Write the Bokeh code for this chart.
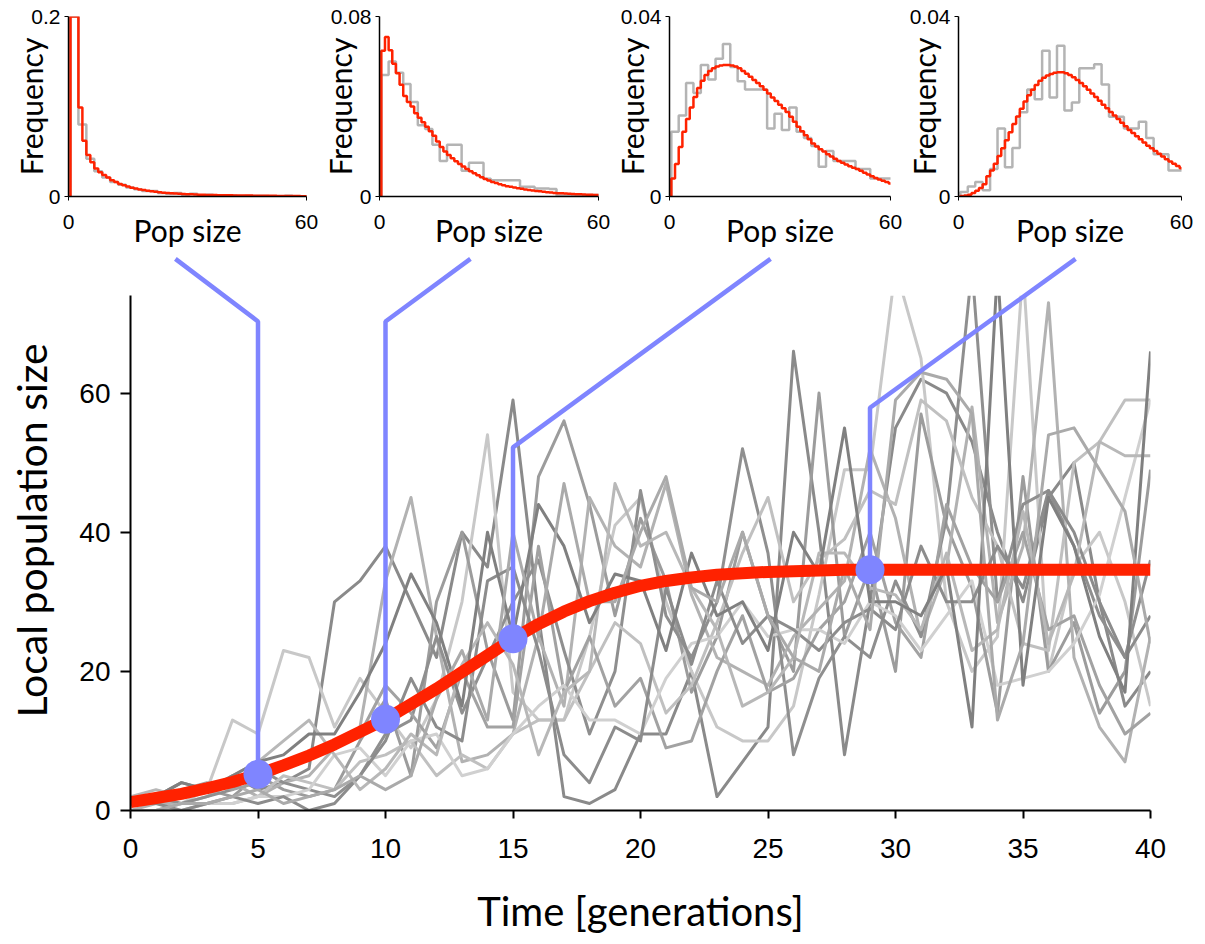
from bokeh.plotting import figure
from bokeh.layouts import column, row
from bokeh.models import Range1d, FixedTicker, PrintfTickFormatter
from bokeh.embed import file_html
from bokeh.resources import INLINE

# ---------------- data ----------------
time = list(range(41))

mean_curve = [1.2, 1.8, 2.4, 3.2, 4.1, 5.2, 6.5, 7.9, 9.5, 11.3,
              13.1, 15.3, 17.5, 19.9, 22.3, 24.7, 26.8, 28.6, 30.1, 31.3,
              32.3, 33.0, 33.5, 33.9, 34.1, 34.3, 34.4, 34.5, 34.6, 34.6,
              34.6, 34.6, 34.6, 34.6, 34.6, 34.6, 34.6, 34.6, 34.6, 34.6, 34.6]

traj_01 = [1, 2, 4, 3, 5, 3, 4, 6, 30, 33, 38, 30, 22, 40, 35, 59, 28, 2, 1, 3,
           11, 11, 20, 2, 7, 12, 66, 40, 8, 30, 55, 62, 60, 53, 40, 30, 45, 50, 30, 15, 20]
traj_02 = [0, 0, 1, 3, 13, 11, 23, 22, 12, 19, 14, 9, 16, 30, 54, 17, 13, 13, 25, 41,
           45, 30, 20, 12, 10, 10, 15, 31, 49, 49, 78, 65, 30, 20, 25, 78, 20, 35, 40, 30, 15]
traj_03 = [1, 1, 2, 3, 2, 5, 3, 2, 3, 10, 16, 5, 30, 40, 23, 13, 48, 56, 44, 28,
           42, 33, 17, 25, 40, 28, 20, 60, 25, 35, 20, 57, 41, 32, 14, 48, 20, 27, 14, 20, 49]
traj_04 = [0, 1, 1, 2, 4, 2, 4, 5, 9, 12, 33, 45, 25, 7, 8, 11, 25, 15, 45, 38,
           35, 47, 31, 22, 20, 18, 25, 29, 33, 52, 42, 25, 35, 58, 27, 38, 73, 22, 12, 7, 25]
traj_05 = [1, 2, 1, 2, 3, 6, 4, 3, 2, 5, 11, 13, 25, 14, 22, 30, 36, 23, 11, 20,
           46, 28, 22, 30, 52, 37, 8, 19, 25, 22, 33, 25, 42, 78, 30, 44, 46, 38, 28, 22, 36]
traj_06 = [0, 0, 0, 1, 1, 2, 5, 4, 3, 7, 8, 10, 5, 8, 6, 11, 13, 13, 20, 27,
           24, 14, 18, 27, 37, 45, 30, 36, 39, 46, 44, 59, 56, 45, 38, 24, 23, 50, 53, 59, 59]
traj_07 = [1, 2, 3, 4, 3, 4, 6, 8, 9, 11, 18, 14, 9, 20, 12, 12, 38, 17, 25, 15,
           19, 9, 10, 20, 28, 17, 19, 26, 30, 40, 27, 22, 44, 35, 30, 40, 26, 28, 18, 11, 14]
traj_08 = [0, 0, 1, 1, 1, 2, 2, 3, 8, 9, 5, 10, 11, 5, 6, 11, 15, 18, 13, 13,
           11, 19, 24, 25, 30, 25, 26, 26, 24, 30, 28, 23, 28, 33, 18, 19, 20, 24, 31, 45, 59]
traj_09 = [1, 1, 0, 1, 2, 1, 2, 0, 1, 5, 10, 19, 12, 10, 33, 35, 23, 8, 4, 12,
           10, 32, 21, 33, 24, 28, 26, 23, 27, 29, 26, 38, 30, 30, 38, 32, 46, 40, 30, 22, 28]
traj_10 = [2, 3, 2, 3, 5, 7, 10, 13, 8, 3, 6, 11, 8, 21, 27, 21, 8, 17, 20, 47,
           38, 40, 32, 26, 15, 17, 22, 37, 37, 32, 31, 26, 37, 23, 26, 43, 24, 34, 53, 51, 51]
traj_11 = [1, 2, 4, 3, 5, 7, 8, 11, 11, 17, 24, 34, 27, 15, 40, 25, 44, 38, 27, 34,
           33, 23, 37, 28, 30, 23, 40, 34, 55, 30, 30, 28, 35, 12, 78, 18, 45, 38, 25, 17, 66]
traj_12 = [0, 0, 1, 1, 2, 3, 1, 2, 3, 5, 3, 5, 16, 23, 13, 40, 25, 47, 30, 30,
           40, 48, 32, 30, 40, 28, 22, 20, 35, 26, 59, 63, 62, 57, 13, 24, 54, 55, 49, 43, 24]
trajectories = [traj_01, traj_02, traj_03, traj_04, traj_05, traj_06,
                traj_07, traj_08, traj_09, traj_10, traj_11, traj_12]
traj_colors = ["#8a8a8a", "#c8c8c8", "#9c9c9c", "#b2b2b2", "#8f8f8f", "#c0c0c0",
               "#a2a2a2", "#d0d0d0", "#8c8c8c", "#b8b8b8", "#808080", "#aaaaaa"]

snap_times = [5, 10, 15, 29]

# insets: fitted distribution (per integer N = 1..60) and observed histogram (bins of 2)
pop_n = list(range(1, 61))
red_t05 = [0.2, 0.2, 0.099, 0.062, 0.046, 0.038, 0.031, 0.027, 0.024, 0.021,
           0.018, 0.016, 0.014, 0.0125, 0.011, 0.0098, 0.0088, 0.0079, 0.0071, 0.0064,
           0.0058, 0.0052, 0.0047, 0.0043, 0.0039, 0.0036, 0.0033, 0.0030, 0.0028, 0.0026,
           0.0024, 0.0022, 0.0020, 0.0019, 0.0018, 0.0017, 0.0016, 0.0015, 0.0014, 0.0013,
           0.0013, 0.0012, 0.0011, 0.0011, 0.0010, 0.0010, 0.0009, 0.0009, 0.0008, 0.0008,
           0.0007, 0.0007, 0.0006, 0.0006, 0.0006, 0.0005, 0.0005, 0.0005, 0.0004, 0.0004]
red_t10 = [0.0648, 0.0709, 0.065, 0.059, 0.0548, 0.0497, 0.0447, 0.042, 0.040, 0.037,
           0.035, 0.033, 0.031, 0.029, 0.027, 0.0245, 0.022, 0.020, 0.0185, 0.017,
           0.0157, 0.0145, 0.0133, 0.0122, 0.0112, 0.0103, 0.0094, 0.0086, 0.0078, 0.0071,
           0.0065, 0.0060, 0.0055, 0.0050, 0.0046, 0.0043, 0.0040, 0.0037, 0.0034, 0.0031,
           0.0029, 0.0027, 0.0025, 0.0023, 0.0021, 0.0019, 0.0018, 0.0016, 0.0015, 0.0014,
           0.0013, 0.0012, 0.0011, 0.0010, 0.0010, 0.0009, 0.0008, 0.0008, 0.0007, 0.0007]
red_t15 = [0.0040, 0.0072, 0.0110, 0.0144, 0.0172, 0.0198, 0.0221, 0.0241, 0.0257, 0.0270,
           0.0279, 0.0285, 0.0289, 0.0291, 0.0292, 0.0292, 0.0291, 0.0289, 0.0285, 0.0279,
           0.0273, 0.0266, 0.0259, 0.0252, 0.0245, 0.0237, 0.0229, 0.0220, 0.0212, 0.0204,
           0.0196, 0.0188, 0.0177, 0.0166, 0.0155, 0.0145, 0.0136, 0.0127, 0.0118, 0.0111,
           0.0105, 0.0100, 0.0094, 0.0089, 0.0084, 0.0079, 0.0075, 0.0071, 0.0067, 0.0064,
           0.0061, 0.0057, 0.0053, 0.0049, 0.0045, 0.0041, 0.0038, 0.0035, 0.0032, 0.0029]
red_t29 = [0.0001, 0.0002, 0.0004, 0.0008, 0.0013, 0.0019, 0.0027, 0.0045, 0.0058, 0.0073,
           0.0090, 0.0107, 0.0125, 0.0143, 0.0161, 0.0178, 0.0195, 0.0211, 0.0225, 0.0237,
           0.0248, 0.0257, 0.0264, 0.0269, 0.0272, 0.0275, 0.0276, 0.0276, 0.0274, 0.0270,
           0.0265, 0.0259, 0.0252, 0.0245, 0.0237, 0.0229, 0.0221, 0.0213, 0.0204, 0.0196,
           0.0188, 0.0180, 0.0172, 0.0164, 0.0156, 0.0148, 0.0141, 0.0134, 0.0127, 0.0120,
           0.0113, 0.0107, 0.0101, 0.0095, 0.0089, 0.0083, 0.0078, 0.0073, 0.0068, 0.0063]

gray_t05 = [0.2, 0.08, 0.042, 0.028, 0.021, 0.016, 0.013, 0.010, 0.008, 0.006,
            0.006, 0.004, 0.003, 0.004, 0.002, 0.003, 0.001, 0.002, 0.0015, 0.001,
            0.001, 0.0005, 0.0008, 0.0005, 0.0005, 0.0003, 0.0003, 0.0008, 0.0003, 0.0003]
gray_t10 = [0.054, 0.060, 0.055, 0.050, 0.042, 0.0317, 0.030, 0.023, 0.0158, 0.023,
            0.023, 0.0115, 0.015, 0.015, 0.0079, 0.0072, 0.0072, 0.0072, 0.0072, 0.0043,
            0.0043, 0.0036, 0.0036, 0.0033, 0.0004, 0.0004, 0.0007, 0.0007, 0.0007, 0.0007]
gray_t15 = [0.0144, 0.018, 0.0252, 0.023, 0.0292, 0.026, 0.0306, 0.0339, 0.0288, 0.0256,
            0.0238, 0.0238, 0.0238, 0.0151, 0.0184, 0.0148, 0.0198, 0.0144, 0.013, 0.0112,
            0.0066, 0.0101, 0.0079, 0.0079, 0.0079, 0.0061, 0.0061, 0.004, 0.004, 0.004]
gray_t29 = [0.001, 0.0022, 0.0032, 0.0014, 0.0061, 0.0151, 0.0065, 0.0108, 0.0187, 0.0238,
            0.0216, 0.0324, 0.022, 0.0335, 0.0191, 0.0209, 0.0285, 0.0285, 0.0294, 0.0249,
            0.0177, 0.0177, 0.0151, 0.0151, 0.0166, 0.013, 0.0094, 0.0094, 0.0058, 0.0058]

red_hists = [red_t05, red_t10, red_t15, red_t29]
gray_hists = [gray_t05, gray_t10, gray_t15, gray_t29]
freq_max = [0.2, 0.08, 0.04, 0.04]
pop_max = 60

# ---------------- styles ----------------
RED = "#FF2200"
BLUE = "#7F85FF"
TICK_FONT = "Liberation Sans"
LABEL_FONT = "Lato"


def hist_step(fig, edges, vals, color, width):
    xs = [edges[0]] + list(edges)
    ys = [0] + list(vals) + [vals[-1]]
    fig.step(xs, ys, mode="after", line_color=color, line_width=width)


# ---------------- insets ----------------
# (left border, right border, frame width)
inset_borders = [(68, 12, 238), (54, 12, 226), (52, 12, 228), (50, 14, 229)]
label_standoffs = [-21, -30, -32, -35]
insets = []
for i in range(4):
    lb, rb, fw = inset_borders[i]
    f = figure(width=lb + fw + rb, height=250,
               x_range=Range1d(0, pop_max), y_range=Range1d(0, freq_max[i]),
               min_border_left=lb, min_border_right=rb,
               min_border_top=16, min_border_bottom=50,
               output_backend="svg", toolbar_location=None)
    f.outline_line_color = None
    f.xgrid.grid_line_color = None
    f.ygrid.grid_line_color = None
    gedges = [0.5 + 2 * k for k in range(len(gray_hists[i]) + 1)]
    hist_step(f, gedges, gray_hists[i], "#b4b4b4", 2.5)
    redges = [n - 0.5 for n in pop_n] + [pop_n[-1] + 0.5]
    hist_step(f, redges, red_hists[i], RED, 2.5)

    f.xaxis.ticker = FixedTicker(ticks=[0, pop_max])
    f.yaxis.ticker = FixedTicker(ticks=[0, freq_max[i]])
    f.yaxis.formatter = PrintfTickFormatter(format="%g")
    for ax in (f.xaxis[0], f.yaxis[0]):
        ax.axis_line_width = 1.5
        ax.major_tick_out = 4
        ax.major_tick_in = 0
        ax.minor_tick_out = 0
        ax.minor_tick_in = 0
        ax.major_label_text_font = TICK_FONT
        ax.major_label_text_font_size = "21px"
        ax.major_label_text_color = "black"
        ax.axis_label_text_font = LABEL_FONT
        ax.axis_label_text_font_size = "30px"
        ax.axis_label_text_font_style = "normal"
        ax.axis_label_text_color = "black"
    f.xaxis.axis_label = "Pop size"
    f.xaxis.major_label_standoff = 14
    f.xaxis.axis_label_standoff = -20
    f.yaxis.axis_label = "Frequency"
    f.yaxis.major_label_standoff = 4
    f.yaxis.axis_label_standoff = label_standoffs[i]
    insets.append(f)

# ---------------- main plot ----------------
p = figure(width=1198, height=690,
           x_range=Range1d(0, 40), y_range=Range1d(0, 80.5),
           min_border_left=130, min_border_right=48,
           min_border_top=0, min_border_bottom=130,
           output_backend="svg", toolbar_location=None)
p.outline_line_color = None
p.xgrid.grid_line_color = None
p.ygrid.grid_line_color = None

for traj, col in zip(trajectories, traj_colors):
    p.line(time, traj, line_color=col, line_width=3, line_join="round")

# clip trajectories at the top of the y axis
p.quad(left=-1, right=41, bottom=74, top=100, fill_color="white", line_color=None)

p.line(time, mean_curve, line_color=RED, line_width=12)

# connectors from the insets down to the snapshot points
conn_start_x = [1.76, 13.33, 25.1, 37.06]
conn_start_y = 79.3
conn_corner_y = [70.3, 70.3, 52.2, 57.9]
snap_vals = [mean_curve[t] for t in snap_times]
for sx, cy, t, v in zip(conn_start_x, conn_corner_y, snap_times, snap_vals):
    p.line([sx, t, t], [conn_start_y, cy, v], line_color=BLUE, line_width=4.5)
p.scatter(snap_times, snap_vals, size=29, fill_color=BLUE, line_color=None)

p.xaxis.ticker = FixedTicker(ticks=list(range(0, 41, 5)))
p.yaxis.ticker = FixedTicker(ticks=[0, 20, 40, 60])
p.xaxis.bounds = (0, 40)
p.yaxis.bounds = (0, 74)
for ax in (p.xaxis[0], p.yaxis[0]):
    ax.axis_line_width = 2
    ax.major_tick_line_width = 2
    ax.major_tick_in = 0
    ax.minor_tick_out = 0
    ax.minor_tick_in = 0
    ax.major_label_text_font = TICK_FONT
    ax.major_label_text_font_size = "28px"
    ax.major_label_text_color = "black"
    ax.axis_label_text_font = LABEL_FONT
    ax.axis_label_text_font_style = "normal"
    ax.axis_label_text_color = "black"
p.xaxis.axis_label_text_font_size = "40px"
p.yaxis.axis_label_text_font_size = "41px"
p.xaxis.major_tick_out = 8
p.yaxis.major_tick_out = 10
p.xaxis.major_label_standoff = 20
p.yaxis.major_label_standoff = 10
p.xaxis.axis_label = "Time [generations]"
p.yaxis.axis_label = "Local population size"
p.xaxis.axis_label_standoff = 26
p.yaxis.axis_label_standoff = 20

layout = column(row(*insets, spacing=0), p, spacing=0)
open("out.html", "w").write(file_html(layout, INLINE))
